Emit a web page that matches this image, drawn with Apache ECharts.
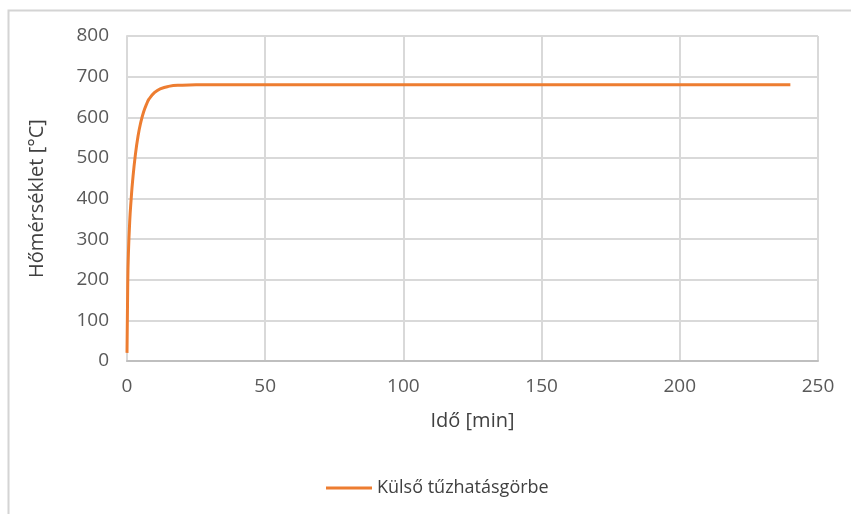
<!DOCTYPE html>
<html><head><meta charset="utf-8">
<script src="https://cdn.jsdelivr.net/npm/echarts@6/dist/echarts.min.js"></script>
<style>html,body{margin:0;padding:0;background:#fff}#c{width:851px;height:514px}</style>
</head><body><div id="c"></div>
<script>
const seriesName = 'Külső tűzhatásgörbe';
const timeMin = [0, 0.25, 0.5, 1, 1.5, 2, 3, 4, 5, 6, 7, 8, 10, 12, 15, 20, 25, 30, 40, 60, 90, 120, 150, 180, 210, 240];
const tempC   = [20, 180, 263, 346, 398, 441, 506, 554, 588, 613, 631, 645, 661, 670, 676, 679, 680, 680, 680, 680, 680, 680, 680, 680, 680, 680];
const yTicks = [0, 800, 100];
const xTicks = [0, 250, 50];

const chart = echarts.init(document.getElementById('c'));
const font = 'Open Sans';
chart.setOption({
  animation: false,
  backgroundColor: '#fff',
  graphic: [{type:'rect', shape:{x:8.5,y:10.5,width:900,height:600}, style:{fill:'none', stroke:'#d4d4d4', lineWidth:2}}],
  grid: {left:127, right:33, top:36, bottom:153},
  xAxis: {
    type:'value', min:xTicks[0], max:xTicks[1], interval:xTicks[2],
    name:'Idő [min]', nameLocation:'middle', nameGap:50,
    nameTextStyle:{fontFamily:font, fontSize:20, color:'#404040'},
    axisLine:{show:true, lineStyle:{color:'#bfbfbf', width:2}},
    axisTick:{show:false},
    axisLabel:{fontFamily:font, fontSize:19, color:'#595959', margin:16},
    splitLine:{show:true, lineStyle:{color:'#d9d9d9', width:2}}
  },
  yAxis: {
    type:'value', min:yTicks[0], max:yTicks[1], interval:yTicks[2],
    name:'Hőmérséklet [°C]', nameLocation:'middle', nameGap:80, nameRotate:90,
    nameTextStyle:{fontFamily:font, fontSize:20, color:'#404040'},
    axisLine:{show:true, lineStyle:{color:'#d9d9d9', width:2}},
    axisTick:{show:false},
    axisLabel:{fontFamily:font, fontSize:19, color:'#595959', margin:18},
    splitLine:{show:true, lineStyle:{color:'#d9d9d9', width:2}}
  },
  legend: {
    bottom: 12, left: 321,
    itemWidth: 46, itemHeight: 3, itemGap: 10,
    textStyle:{fontFamily:font, fontSize:18, color:'#404040'},
    data:[{name:seriesName, icon:'rect'}]
  },
  series: [{
    name: seriesName, type:'line', smooth:true, showSymbol:false,
    lineStyle:{color:'#ED7D31', width:3}, itemStyle:{color:'#ED7D31'},
    data: timeMin.map((t,i)=>[t, tempC[i]])
  }]
});
</script></body></html>
